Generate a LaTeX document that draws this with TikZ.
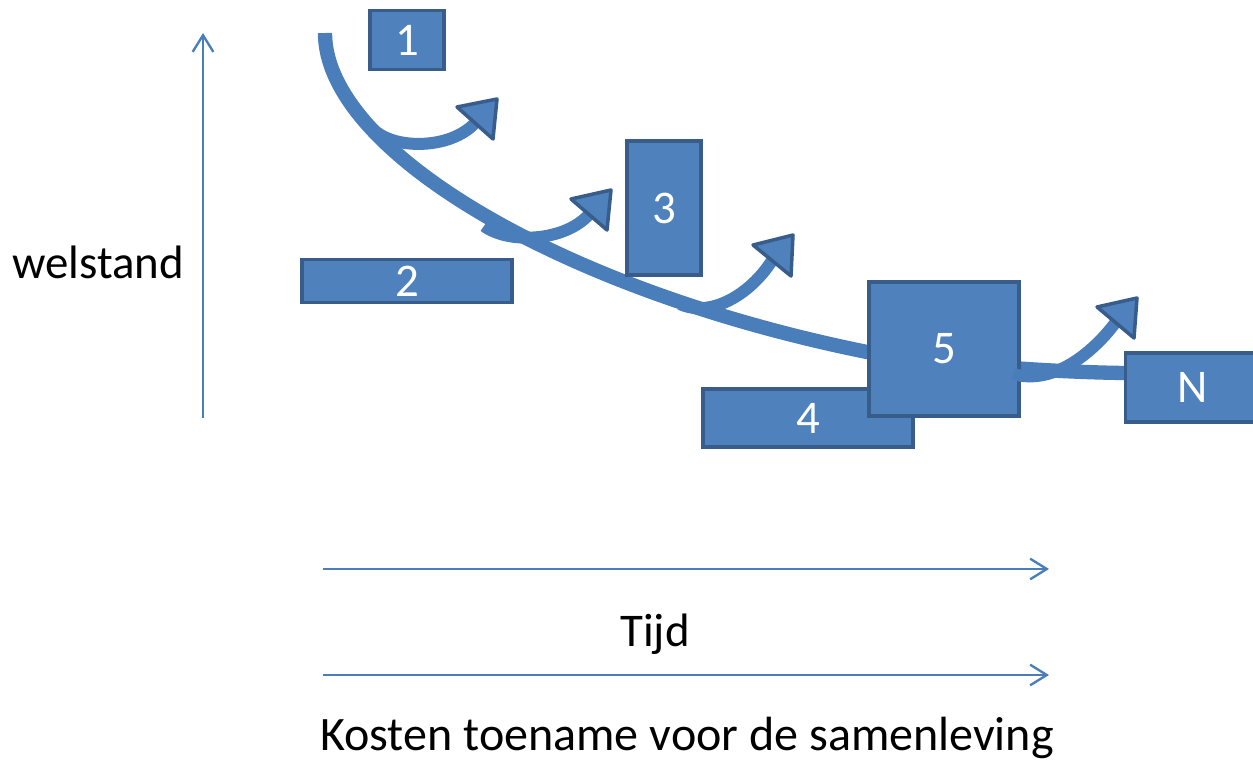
\documentclass[tikz,border=0pt]{standalone}
\usepackage{fontspec}
\setmainfont{Carlito}
\usepackage{tikz}
\usetikzlibrary{arrows.meta}
\usepackage{xcolor}
\definecolor{boxfill}{HTML}{4F81BD}
\definecolor{boxline}{HTML}{385D8A}
\definecolor{flow}{HTML}{4A7EBB}

\tikzset{
  box/.style={draw=boxline, fill=boxfill, line width=3.2pt, inner sep=0pt,
              text=white, font=\fontsize{40}{48}\selectfont},
  flowline/.style={draw=flow, line width=0.43cm},
  shaft/.style={draw=flow, line width=0.36cm},
  head/.style={fill=boxfill, draw=boxline, line width=3pt, line join=round},
  axis/.style={draw=flow, line width=2pt, -{Straight Barb[length=0.5cm, width=0.62cm]}},
  axistext/.style={font=\fontsize{40}{48}\selectfont, anchor=base}
}

\begin{document}
\begin{tikzpicture}[x=0.03cm, y=-0.03cm]
    \useasboundingbox (0,0) rectangle (1253,761);

    % axes
    \coordinate (w0) at (203,418);
    \coordinate (w1) at (203,33);
    \coordinate (t0) at (323,569);
    \coordinate (t1) at (1049,569);
    \coordinate (k0) at (323,675);
    \coordinate (k1) at (1049,675);
    \draw[axis] (w0) -- (w1);
    \draw[axis] (t0) -- (t1);
    \draw[axis] (k0) -- (k1);
    \node[axistext] (welstand) at (98,278) {welstand};
    \node[axistext] (tijd) at (655,646) {Tijd};
    \node[axistext, font=\fontsize{41}{48}\selectfont] (kosten) at (687,750)
      {Kosten toename voor de samenleving};

    % main curve
    \coordinate (c0) at (325,33);
    \coordinate (c1) at (867,352);
    \coordinate (c2) at (1124,373);
    \draw[flowline] (c0) .. controls (325,150) and (560,290) .. (c1)
                         .. controls (950,365) and (1050,372) .. (c2);

    % boxes
    \node[box, minimum width=2.22cm, minimum height=1.77cm] (b1) at (407,40) {1};
    \node[box, minimum width=6.3cm, minimum height=1.29cm] (b2) at (407,281) {2};
    \node[box, minimum width=2.22cm, minimum height=4.02cm] (b3) at (664,208) {3};
    \node[box, minimum width=6.3cm, minimum height=1.74cm] (b4) at (808,418) {4};
    \node[box, minimum width=4.5cm, minimum height=4.02cm] (b5) at (944,349) {5};
    \node[box, minimum width=4.05cm, minimum height=2.07cm] (bN) at (1193,387.5) {N};

    % branches
    \draw[shaft] (372,128) .. controls (392,150) and (450,150) .. (475,123);
    \filldraw[head] (457,107) -- (497,99) -- (493,139) -- cycle;
    \draw[shaft] (484,226) .. controls (508,244) and (564,242) .. (589,214.5);
    \filldraw[head] (571,199) -- (611,190) -- (607,230) -- cycle;
    \draw[shaft] (680,304) .. controls (710,318) and (750,295) .. (772,260.5);
    \filldraw[head] (753,245) -- (793,235) -- (791,276) -- cycle;
    \draw[shaft] (1013,374) .. controls (1055,386) and (1095,350) .. (1115.5,322.5);
    \filldraw[head] (1097,307) -- (1137,298) -- (1134,338) -- cycle;
\end{tikzpicture}
\end{document}
